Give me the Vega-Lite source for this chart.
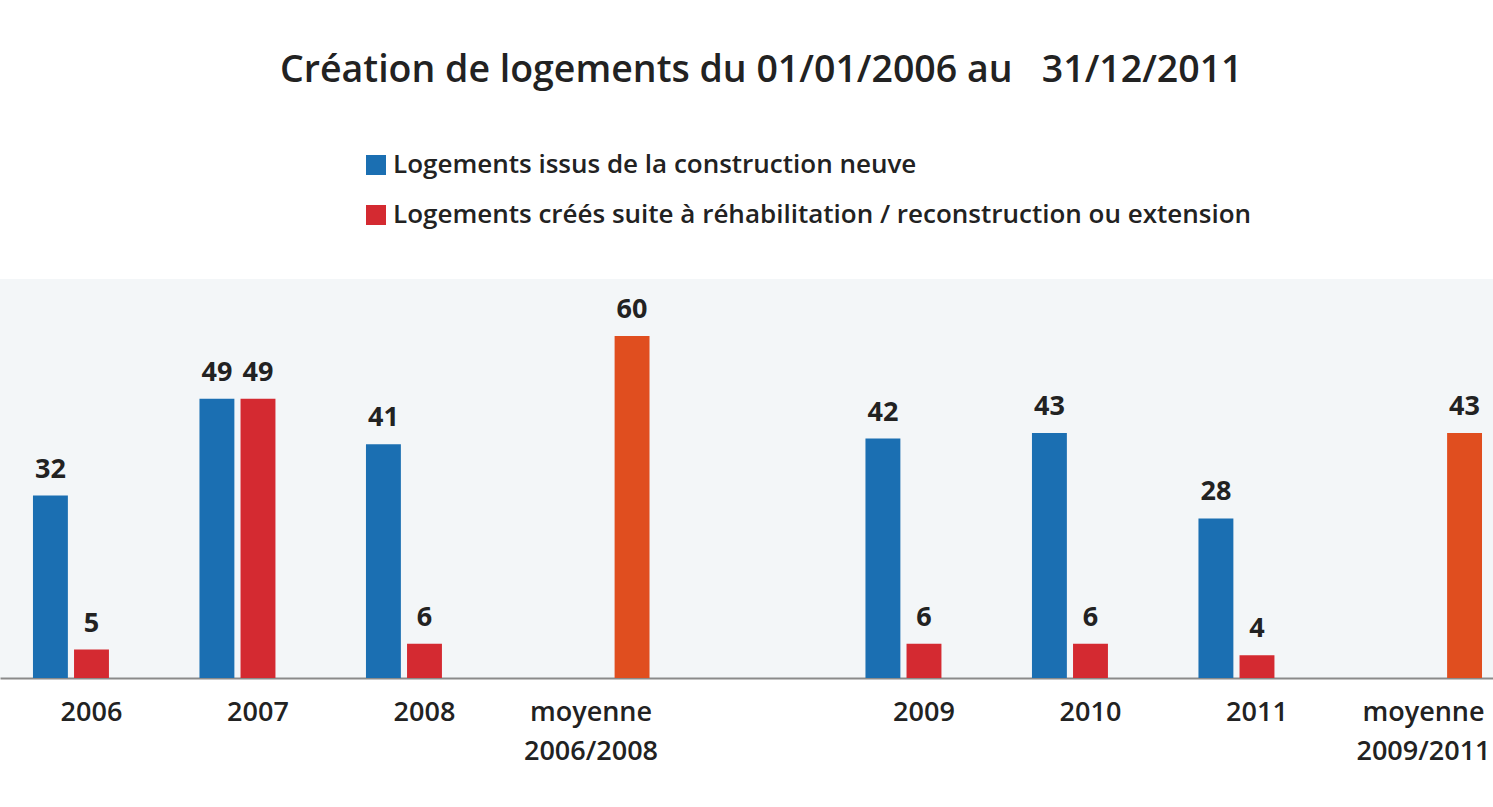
{
  "$schema": "https://vega.github.io/schema/vega-lite/v6.json",
  "width": 1493,
  "height": 399,
  "autosize": {"type": "none"},
  "padding": {"top": 279, "left": 0, "right": 0, "bottom": 129},
  "background": "white",
  "config": {
    "view": {"stroke": null, "fill": "#f3f6f8"},
    "font": "Open Sans"
  },
  "title": {
    "text": "Création de logements du 01/01/2006 au\u00a0\u00a0\u00a031/12/2011",
    "anchor": "start",
    "frame": "group",
    "dx": 280,
    "offset": 63,
    "fontSize": 37.5,
    "fontWeight": 600,
    "color": "#222222"
  },
  "data": {
    "values": [
      {"c": "2006", "s": "Logements issus de la construction neuve", "v": 32},
      {"c": "2006", "s": "Logements créés suite à réhabilitation / reconstruction ou extension", "v": 5},
      {"c": "2007", "s": "Logements issus de la construction neuve", "v": 49},
      {"c": "2007", "s": "Logements créés suite à réhabilitation / reconstruction ou extension", "v": 49},
      {"c": "2008", "s": "Logements issus de la construction neuve", "v": 41},
      {"c": "2008", "s": "Logements créés suite à réhabilitation / reconstruction ou extension", "v": 6},
      {"c": "moyenne|2006/2008", "s": "moyenne", "v": 60},
      {"c": "2009", "s": "Logements issus de la construction neuve", "v": 42},
      {"c": "2009", "s": "Logements créés suite à réhabilitation / reconstruction ou extension", "v": 6},
      {"c": "2010", "s": "Logements issus de la construction neuve", "v": 43},
      {"c": "2010", "s": "Logements créés suite à réhabilitation / reconstruction ou extension", "v": 6},
      {"c": "2011", "s": "Logements issus de la construction neuve", "v": 28},
      {"c": "2011", "s": "Logements créés suite à réhabilitation / reconstruction ou extension", "v": 4},
      {"c": "moyenne|2009/2011", "s": "moyenne", "v": 43}
    ]
  },
  "encoding": {
    "x": {
      "field": "c",
      "type": "nominal",
      "sort": null,
      "scale": {
        "domain": ["2006", "2007", "2008", "moyenne|2006/2008", " ", "2009", "2010", "2011", "moyenne|2009/2011"],
        "paddingInner": 0.297,
        "paddingOuter": 0.132,
        "align": 0.75
      },
      "axis": {
        "title": null,
        "labelExpr": "split(datum.label, '|')",
        "labelAngle": 0,
        "labelFontSize": 27,
        "labelFontWeight": 600,
        "labelColor": "#222222",
        "labelPadding": 21,
        "labelLineHeight": 39,
        "ticks": false,
        "domainColor": "#8a8a8a",
        "domainWidth": 2,
        "grid": false
      }
    },
    "xOffset": {
      "field": "s",
      "type": "nominal",
      "scale": {
        "domain": ["Logements issus de la construction neuve", "Logements créés suite à réhabilitation / reconstruction ou extension", "moyenne"],
        "paddingInner": 0.15
      }
    },
    "y": {
      "field": "v",
      "type": "quantitative",
      "scale": {"domain": [0, 70]},
      "axis": null
    }
  },
  "layer": [
    {
      "mark": {"type": "bar"},
      "encoding": {
        "color": {
          "field": "s",
          "type": "nominal",
          "scale": {
            "domain": ["Logements issus de la construction neuve", "Logements créés suite à réhabilitation / reconstruction ou extension", "moyenne"],
            "range": ["#1b6fb2", "#d42a31", "#e04e1f"]
          },
          "legend": {
            "values": ["Logements issus de la construction neuve", "Logements créés suite à réhabilitation / reconstruction ou extension"],
            "orient": "none",
            "legendX": 363,
            "legendY": -127,
            "title": null,
            "direction": "vertical",
            "symbolType": "square",
            "symbolSize": 400,
            "symbolStrokeWidth": 0,
            "labelFontSize": 26,
            "labelFontWeight": 600,
            "labelColor": "#222222",
            "labelLimit": 1000,
            "labelOffset": 4,
            "rowPadding": 24
          }
        }
      }
    },
    {
      "mark": {"type": "text", "baseline": "bottom", "dy": -12, "fontSize": 27, "fontWeight": "bold", "color": "#222222"},
      "encoding": {"text": {"field": "v", "type": "quantitative"}}
    }
  ]
}
